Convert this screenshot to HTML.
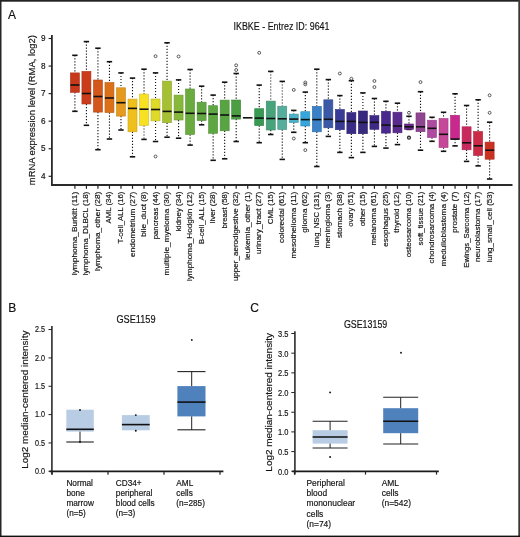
<!DOCTYPE html>
<html><head><meta charset="utf-8"><style>
html,body{margin:0;padding:0;background:#fff;}
body{width:520px;height:537px;overflow:hidden;font-family:"Liberation Sans",sans-serif;}
svg{position:absolute;left:0;top:0;will-change:transform;}
text{stroke:#1a1a1a;stroke-width:0.18px;}

</style></head><body>
<svg width="520" height="537" viewBox="0 0 520 537" fill="#111">
<text x="8" y="18.8" font-size="12" font-family="'Liberation Sans', sans-serif">A</text>
<text x="281.5" y="30.2" font-size="10.6" text-anchor="middle" textLength="96" lengthAdjust="spacingAndGlyphs" font-family="'Liberation Sans', sans-serif">IKBKE - Entrez ID: 9641</text>
<text transform="translate(35.2,110.2) rotate(-90)" font-size="9.6" text-anchor="middle" textLength="150" lengthAdjust="spacingAndGlyphs" font-family="'Liberation Sans', sans-serif">mRNA expression level (RMA, log2)</text>
<line x1="51.9" y1="35" x2="51.9" y2="185.5" stroke="#2a2a2a" stroke-width="1.8"/>
<line x1="51" y1="185" x2="512.5" y2="185" stroke="#2a2a2a" stroke-width="1.8"/>
<line x1="48.6" y1="38.50" x2="52" y2="38.50" stroke="#222" stroke-width="1.15"/>
<text x="43.2" y="41.25" font-size="8.2" text-anchor="middle" font-family="'Liberation Sans', sans-serif">9</text>
<line x1="48.6" y1="66.06" x2="52" y2="66.06" stroke="#222" stroke-width="1.15"/>
<text x="43.2" y="68.81" font-size="8.2" text-anchor="middle" font-family="'Liberation Sans', sans-serif">8</text>
<line x1="48.6" y1="93.62" x2="52" y2="93.62" stroke="#222" stroke-width="1.15"/>
<text x="43.2" y="96.37" font-size="8.2" text-anchor="middle" font-family="'Liberation Sans', sans-serif">7</text>
<line x1="48.6" y1="121.18" x2="52" y2="121.18" stroke="#222" stroke-width="1.15"/>
<text x="43.2" y="123.93" font-size="8.2" text-anchor="middle" font-family="'Liberation Sans', sans-serif">6</text>
<line x1="48.6" y1="148.74" x2="52" y2="148.74" stroke="#222" stroke-width="1.15"/>
<text x="43.2" y="151.49" font-size="8.2" text-anchor="middle" font-family="'Liberation Sans', sans-serif">5</text>
<line x1="48.6" y1="176.30" x2="52" y2="176.30" stroke="#222" stroke-width="1.15"/>
<text x="43.2" y="179.05" font-size="8.2" text-anchor="middle" font-family="'Liberation Sans', sans-serif">4</text>
<line x1="74.90" y1="185" x2="74.90" y2="188.8" stroke="#222" stroke-width="1.2"/>
<text transform="translate(76.90,275.20) rotate(-90)" font-size="8.1" textLength="83.5" lengthAdjust="spacingAndGlyphs" font-family="'Liberation Sans', sans-serif">lymphoma_Burkitt (11)</text>
<line x1="74.90" y1="55.30" x2="74.90" y2="72.90" stroke="#111" stroke-width="1.1" stroke-dasharray="1.2 1.8"/>
<line x1="74.90" y1="92.30" x2="74.90" y2="111.30" stroke="#111" stroke-width="1.1" stroke-dasharray="1.2 1.8"/>
<line x1="72.20" y1="55.30" x2="77.60" y2="55.30" stroke="#111" stroke-width="1.6"/>
<line x1="72.20" y1="111.30" x2="77.60" y2="111.30" stroke="#111" stroke-width="1.6"/>
<rect x="70.40" y="72.90" width="9.00" height="19.40" fill="#c8391b" stroke="#aa3016" stroke-width="0.6"/>
<line x1="70.40" y1="85.0" x2="79.40" y2="85.0" stroke="#111" stroke-width="1.6"/>
<line x1="86.42" y1="185" x2="86.42" y2="188.8" stroke="#222" stroke-width="1.2"/>
<text transform="translate(88.42,275.50) rotate(-90)" font-size="8.1" textLength="83.8" lengthAdjust="spacingAndGlyphs" font-family="'Liberation Sans', sans-serif">lymphoma_DLBCL (18)</text>
<line x1="86.42" y1="41.60" x2="86.42" y2="71.40" stroke="#111" stroke-width="1.1" stroke-dasharray="1.2 1.8"/>
<line x1="86.42" y1="104.00" x2="86.42" y2="125.30" stroke="#111" stroke-width="1.1" stroke-dasharray="1.2 1.8"/>
<line x1="83.72" y1="41.60" x2="89.12" y2="41.60" stroke="#111" stroke-width="1.6"/>
<line x1="83.72" y1="125.30" x2="89.12" y2="125.30" stroke="#111" stroke-width="1.6"/>
<rect x="81.92" y="71.40" width="9.00" height="32.60" fill="#cb3c1b" stroke="#ac3316" stroke-width="0.6"/>
<line x1="81.92" y1="93.5" x2="90.92" y2="93.5" stroke="#111" stroke-width="1.6"/>
<line x1="97.94" y1="185" x2="97.94" y2="188.8" stroke="#222" stroke-width="1.2"/>
<text transform="translate(99.94,270.90) rotate(-90)" font-size="8.1" textLength="79.2" lengthAdjust="spacingAndGlyphs" font-family="'Liberation Sans', sans-serif">lymphoma_other (28)</text>
<line x1="97.94" y1="48.20" x2="97.94" y2="80.00" stroke="#111" stroke-width="1.1" stroke-dasharray="1.2 1.8"/>
<line x1="97.94" y1="112.10" x2="97.94" y2="149.70" stroke="#111" stroke-width="1.1" stroke-dasharray="1.2 1.8"/>
<line x1="95.24" y1="48.20" x2="100.64" y2="48.20" stroke="#111" stroke-width="1.6"/>
<line x1="95.24" y1="149.70" x2="100.64" y2="149.70" stroke="#111" stroke-width="1.6"/>
<rect x="93.44" y="80.00" width="9.00" height="32.10" fill="#d3561a" stroke="#b34916" stroke-width="0.6"/>
<line x1="93.44" y1="96.5" x2="102.44" y2="96.5" stroke="#111" stroke-width="1.6"/>
<line x1="109.46" y1="185" x2="109.46" y2="188.8" stroke="#222" stroke-width="1.2"/>
<text transform="translate(111.46,223.40) rotate(-90)" font-size="8.1" textLength="31.7" lengthAdjust="spacingAndGlyphs" font-family="'Liberation Sans', sans-serif">AML (34)</text>
<line x1="109.46" y1="61.70" x2="109.46" y2="82.50" stroke="#111" stroke-width="1.1" stroke-dasharray="1.2 1.8"/>
<line x1="109.46" y1="112.60" x2="109.46" y2="139.00" stroke="#111" stroke-width="1.1" stroke-dasharray="1.2 1.8"/>
<line x1="106.76" y1="61.70" x2="112.16" y2="61.70" stroke="#111" stroke-width="1.6"/>
<line x1="106.76" y1="139.00" x2="112.16" y2="139.00" stroke="#111" stroke-width="1.6"/>
<rect x="104.96" y="82.50" width="9.00" height="30.10" fill="#db7019" stroke="#ba5f15" stroke-width="0.6"/>
<line x1="104.96" y1="98.0" x2="113.96" y2="98.0" stroke="#111" stroke-width="1.6"/>
<line x1="120.98" y1="185" x2="120.98" y2="188.8" stroke="#222" stroke-width="1.2"/>
<text transform="translate(122.98,243.50) rotate(-90)" font-size="8.1" textLength="51.8" lengthAdjust="spacingAndGlyphs" font-family="'Liberation Sans', sans-serif">T-cell_ALL (16)</text>
<line x1="120.98" y1="72.90" x2="120.98" y2="87.80" stroke="#111" stroke-width="1.1" stroke-dasharray="1.2 1.8"/>
<line x1="120.98" y1="116.10" x2="120.98" y2="130.00" stroke="#111" stroke-width="1.1" stroke-dasharray="1.2 1.8"/>
<line x1="118.28" y1="72.90" x2="123.68" y2="72.90" stroke="#111" stroke-width="1.6"/>
<line x1="118.28" y1="130.00" x2="123.68" y2="130.00" stroke="#111" stroke-width="1.6"/>
<rect x="116.48" y="87.80" width="9.00" height="28.30" fill="#e5991d" stroke="#c28218" stroke-width="0.6"/>
<line x1="116.48" y1="102.7" x2="125.48" y2="102.7" stroke="#111" stroke-width="1.6"/>
<line x1="132.50" y1="185" x2="132.50" y2="188.8" stroke="#222" stroke-width="1.2"/>
<text transform="translate(134.50,256.90) rotate(-90)" font-size="8.1" textLength="65.2" lengthAdjust="spacingAndGlyphs" font-family="'Liberation Sans', sans-serif">endometrium (27)</text>
<line x1="132.50" y1="78.10" x2="132.50" y2="99.10" stroke="#111" stroke-width="1.1" stroke-dasharray="1.2 1.8"/>
<line x1="132.50" y1="131.80" x2="132.50" y2="156.80" stroke="#111" stroke-width="1.1" stroke-dasharray="1.2 1.8"/>
<line x1="129.80" y1="78.10" x2="135.20" y2="78.10" stroke="#111" stroke-width="1.6"/>
<line x1="129.80" y1="156.80" x2="135.20" y2="156.80" stroke="#111" stroke-width="1.6"/>
<rect x="128.00" y="99.10" width="9.00" height="32.70" fill="#efbf1c" stroke="#cba217" stroke-width="0.6"/>
<line x1="128.00" y1="108.4" x2="137.00" y2="108.4" stroke="#111" stroke-width="1.6"/>
<line x1="144.02" y1="185" x2="144.02" y2="188.8" stroke="#222" stroke-width="1.2"/>
<text transform="translate(146.02,236.80) rotate(-90)" font-size="8.1" textLength="45.1" lengthAdjust="spacingAndGlyphs" font-family="'Liberation Sans', sans-serif">bile_duct (8)</text>
<line x1="144.02" y1="69.20" x2="144.02" y2="94.10" stroke="#111" stroke-width="1.1" stroke-dasharray="1.2 1.8"/>
<line x1="144.02" y1="125.40" x2="144.02" y2="139.40" stroke="#111" stroke-width="1.1" stroke-dasharray="1.2 1.8"/>
<line x1="141.32" y1="69.20" x2="146.72" y2="69.20" stroke="#111" stroke-width="1.6"/>
<line x1="141.32" y1="139.40" x2="146.72" y2="139.40" stroke="#111" stroke-width="1.6"/>
<rect x="139.52" y="94.10" width="9.00" height="31.30" fill="#f7e121" stroke="#d1bf1c" stroke-width="0.6"/>
<line x1="139.52" y1="109.2" x2="148.52" y2="109.2" stroke="#111" stroke-width="1.6"/>
<line x1="155.54" y1="185" x2="155.54" y2="188.8" stroke="#222" stroke-width="1.2"/>
<text transform="translate(157.54,239.20) rotate(-90)" font-size="8.1" textLength="47.5" lengthAdjust="spacingAndGlyphs" font-family="'Liberation Sans', sans-serif">pancreas (44)</text>
<line x1="155.54" y1="72.90" x2="155.54" y2="99.00" stroke="#111" stroke-width="1.1" stroke-dasharray="1.2 1.8"/>
<line x1="155.54" y1="120.90" x2="155.54" y2="141.50" stroke="#111" stroke-width="1.1" stroke-dasharray="1.2 1.8"/>
<line x1="152.84" y1="72.90" x2="158.24" y2="72.90" stroke="#111" stroke-width="1.6"/>
<line x1="152.84" y1="141.50" x2="158.24" y2="141.50" stroke="#111" stroke-width="1.6"/>
<rect x="151.04" y="99.00" width="9.00" height="21.90" fill="#dfd92a" stroke="#bdb823" stroke-width="0.6"/>
<line x1="151.04" y1="109.5" x2="160.04" y2="109.5" stroke="#111" stroke-width="1.6"/>
<circle cx="155.54" cy="56.2" r="1.45" fill="none" stroke="#333" stroke-width="0.8"/>
<circle cx="155.54" cy="156.5" r="1.45" fill="none" stroke="#333" stroke-width="0.8"/>
<line x1="167.06" y1="185" x2="167.06" y2="188.8" stroke="#222" stroke-width="1.2"/>
<text transform="translate(169.06,275.50) rotate(-90)" font-size="8.1" textLength="83.8" lengthAdjust="spacingAndGlyphs" font-family="'Liberation Sans', sans-serif">multiple_myeloma (30)</text>
<line x1="167.06" y1="42.80" x2="167.06" y2="81.10" stroke="#111" stroke-width="1.1" stroke-dasharray="1.2 1.8"/>
<line x1="167.06" y1="122.70" x2="167.06" y2="137.20" stroke="#111" stroke-width="1.1" stroke-dasharray="1.2 1.8"/>
<line x1="164.36" y1="42.80" x2="169.76" y2="42.80" stroke="#111" stroke-width="1.6"/>
<line x1="164.36" y1="137.20" x2="169.76" y2="137.20" stroke="#111" stroke-width="1.6"/>
<rect x="162.56" y="81.10" width="9.00" height="41.60" fill="#a6c033" stroke="#8da32b" stroke-width="0.6"/>
<line x1="162.56" y1="111.4" x2="171.56" y2="111.4" stroke="#111" stroke-width="1.6"/>
<line x1="178.58" y1="185" x2="178.58" y2="188.8" stroke="#222" stroke-width="1.2"/>
<text transform="translate(180.58,231.20) rotate(-90)" font-size="8.1" textLength="39.5" lengthAdjust="spacingAndGlyphs" font-family="'Liberation Sans', sans-serif">kidney (34)</text>
<line x1="178.58" y1="79.90" x2="178.58" y2="95.10" stroke="#111" stroke-width="1.1" stroke-dasharray="1.2 1.8"/>
<line x1="178.58" y1="120.00" x2="178.58" y2="138.20" stroke="#111" stroke-width="1.1" stroke-dasharray="1.2 1.8"/>
<line x1="175.88" y1="79.90" x2="181.28" y2="79.90" stroke="#111" stroke-width="1.6"/>
<line x1="175.88" y1="138.20" x2="181.28" y2="138.20" stroke="#111" stroke-width="1.6"/>
<rect x="174.08" y="95.10" width="9.00" height="24.90" fill="#86b83a" stroke="#719c31" stroke-width="0.6"/>
<line x1="174.08" y1="112.1" x2="183.08" y2="112.1" stroke="#111" stroke-width="1.6"/>
<circle cx="178.58" cy="56.5" r="1.45" fill="none" stroke="#333" stroke-width="0.8"/>
<line x1="190.10" y1="185" x2="190.10" y2="188.8" stroke="#222" stroke-width="1.2"/>
<text transform="translate(192.10,281.10) rotate(-90)" font-size="8.1" textLength="89.4" lengthAdjust="spacingAndGlyphs" font-family="'Liberation Sans', sans-serif">lymphoma_Hodgkin (12)</text>
<line x1="190.10" y1="69.50" x2="190.10" y2="89.00" stroke="#111" stroke-width="1.1" stroke-dasharray="1.2 1.8"/>
<line x1="190.10" y1="134.50" x2="190.10" y2="145.10" stroke="#111" stroke-width="1.1" stroke-dasharray="1.2 1.8"/>
<line x1="187.40" y1="69.50" x2="192.80" y2="69.50" stroke="#111" stroke-width="1.6"/>
<line x1="187.40" y1="145.10" x2="192.80" y2="145.10" stroke="#111" stroke-width="1.6"/>
<rect x="185.60" y="89.00" width="9.00" height="45.50" fill="#6aab3f" stroke="#5a9135" stroke-width="0.6"/>
<line x1="185.60" y1="113.3" x2="194.60" y2="113.3" stroke="#111" stroke-width="1.6"/>
<line x1="201.62" y1="185" x2="201.62" y2="188.8" stroke="#222" stroke-width="1.2"/>
<text transform="translate(203.62,243.90) rotate(-90)" font-size="8.1" textLength="52.2" lengthAdjust="spacingAndGlyphs" font-family="'Liberation Sans', sans-serif">B-cell_ALL (15)</text>
<line x1="201.62" y1="86.20" x2="201.62" y2="102.20" stroke="#111" stroke-width="1.1" stroke-dasharray="1.2 1.8"/>
<line x1="201.62" y1="120.60" x2="201.62" y2="124.80" stroke="#111" stroke-width="1.1" stroke-dasharray="1.2 1.8"/>
<line x1="198.92" y1="86.20" x2="204.32" y2="86.20" stroke="#111" stroke-width="1.6"/>
<line x1="198.92" y1="124.80" x2="204.32" y2="124.80" stroke="#111" stroke-width="1.6"/>
<rect x="197.12" y="102.20" width="9.00" height="18.40" fill="#61a841" stroke="#528e37" stroke-width="0.6"/>
<line x1="197.12" y1="113.5" x2="206.12" y2="113.5" stroke="#111" stroke-width="1.6"/>
<line x1="213.14" y1="185" x2="213.14" y2="188.8" stroke="#222" stroke-width="1.2"/>
<text transform="translate(215.14,223.40) rotate(-90)" font-size="8.1" textLength="31.7" lengthAdjust="spacingAndGlyphs" font-family="'Liberation Sans', sans-serif">liver (28)</text>
<line x1="213.14" y1="95.10" x2="213.14" y2="105.70" stroke="#111" stroke-width="1.1" stroke-dasharray="1.2 1.8"/>
<line x1="213.14" y1="133.30" x2="213.14" y2="160.30" stroke="#111" stroke-width="1.1" stroke-dasharray="1.2 1.8"/>
<line x1="210.44" y1="95.10" x2="215.84" y2="95.10" stroke="#111" stroke-width="1.6"/>
<line x1="210.44" y1="160.30" x2="215.84" y2="160.30" stroke="#111" stroke-width="1.6"/>
<rect x="208.64" y="105.70" width="9.00" height="27.60" fill="#5ca742" stroke="#4e8d38" stroke-width="0.6"/>
<line x1="208.64" y1="114.1" x2="217.64" y2="114.1" stroke="#111" stroke-width="1.6"/>
<line x1="224.66" y1="185" x2="224.66" y2="188.8" stroke="#222" stroke-width="1.2"/>
<text transform="translate(226.66,228.60) rotate(-90)" font-size="8.1" textLength="36.9" lengthAdjust="spacingAndGlyphs" font-family="'Liberation Sans', sans-serif">breast (58)</text>
<line x1="224.66" y1="82.20" x2="224.66" y2="100.10" stroke="#111" stroke-width="1.1" stroke-dasharray="1.2 1.8"/>
<line x1="224.66" y1="130.80" x2="224.66" y2="158.80" stroke="#111" stroke-width="1.1" stroke-dasharray="1.2 1.8"/>
<line x1="221.96" y1="82.20" x2="227.36" y2="82.20" stroke="#111" stroke-width="1.6"/>
<line x1="221.96" y1="158.80" x2="227.36" y2="158.80" stroke="#111" stroke-width="1.6"/>
<rect x="220.16" y="100.10" width="9.00" height="30.70" fill="#58a443" stroke="#4a8b38" stroke-width="0.6"/>
<line x1="220.16" y1="115.0" x2="229.16" y2="115.0" stroke="#111" stroke-width="1.6"/>
<line x1="236.18" y1="185" x2="236.18" y2="188.8" stroke="#222" stroke-width="1.2"/>
<text transform="translate(238.18,281.10) rotate(-90)" font-size="8.1" textLength="89.4" lengthAdjust="spacingAndGlyphs" font-family="'Liberation Sans', sans-serif">upper_aerodigestive (32)</text>
<line x1="236.18" y1="73.50" x2="236.18" y2="100.00" stroke="#111" stroke-width="1.1" stroke-dasharray="1.2 1.8"/>
<line x1="236.18" y1="119.10" x2="236.18" y2="141.50" stroke="#111" stroke-width="1.1" stroke-dasharray="1.2 1.8"/>
<line x1="233.48" y1="73.50" x2="238.88" y2="73.50" stroke="#111" stroke-width="1.6"/>
<line x1="233.48" y1="141.50" x2="238.88" y2="141.50" stroke="#111" stroke-width="1.6"/>
<rect x="231.68" y="100.00" width="9.00" height="19.10" fill="#4c9e43" stroke="#408638" stroke-width="0.6"/>
<line x1="231.68" y1="115.9" x2="240.68" y2="115.9" stroke="#111" stroke-width="1.6"/>
<circle cx="236.18" cy="70.0" r="1.45" fill="none" stroke="#333" stroke-width="0.8"/>
<circle cx="236.18" cy="65.3" r="1.45" fill="none" stroke="#333" stroke-width="0.8"/>
<line x1="247.70" y1="185" x2="247.70" y2="188.8" stroke="#222" stroke-width="1.2"/>
<text transform="translate(249.70,259.70) rotate(-90)" font-size="8.1" textLength="68.0" lengthAdjust="spacingAndGlyphs" font-family="'Liberation Sans', sans-serif">leukemia_other (1)</text>
<line x1="242.90" y1="117.8" x2="252.50" y2="117.8" stroke="#111" stroke-width="1.6"/>
<line x1="259.22" y1="185" x2="259.22" y2="188.8" stroke="#222" stroke-width="1.2"/>
<text transform="translate(261.22,254.10) rotate(-90)" font-size="8.1" textLength="62.4" lengthAdjust="spacingAndGlyphs" font-family="'Liberation Sans', sans-serif">urinary_tract (27)</text>
<line x1="259.22" y1="85.10" x2="259.22" y2="108.70" stroke="#111" stroke-width="1.1" stroke-dasharray="1.2 1.8"/>
<line x1="259.22" y1="125.60" x2="259.22" y2="142.70" stroke="#111" stroke-width="1.1" stroke-dasharray="1.2 1.8"/>
<line x1="256.52" y1="85.10" x2="261.92" y2="85.10" stroke="#111" stroke-width="1.6"/>
<line x1="256.52" y1="142.70" x2="261.92" y2="142.70" stroke="#111" stroke-width="1.6"/>
<rect x="254.72" y="108.70" width="9.00" height="16.90" fill="#379a52" stroke="#2e8245" stroke-width="0.6"/>
<line x1="254.72" y1="118.1" x2="263.72" y2="118.1" stroke="#111" stroke-width="1.6"/>
<circle cx="259.22" cy="52.8" r="1.45" fill="none" stroke="#333" stroke-width="0.8"/>
<line x1="270.74" y1="185" x2="270.74" y2="188.8" stroke="#222" stroke-width="1.2"/>
<text transform="translate(272.74,224.30) rotate(-90)" font-size="8.1" textLength="32.6" lengthAdjust="spacingAndGlyphs" font-family="'Liberation Sans', sans-serif">CML (15)</text>
<line x1="270.74" y1="71.40" x2="270.74" y2="101.10" stroke="#111" stroke-width="1.1" stroke-dasharray="1.2 1.8"/>
<line x1="270.74" y1="130.00" x2="270.74" y2="134.50" stroke="#111" stroke-width="1.1" stroke-dasharray="1.2 1.8"/>
<line x1="268.04" y1="71.40" x2="273.44" y2="71.40" stroke="#111" stroke-width="1.6"/>
<line x1="268.04" y1="134.50" x2="273.44" y2="134.50" stroke="#111" stroke-width="1.6"/>
<rect x="266.24" y="101.10" width="9.00" height="28.90" fill="#47a37a" stroke="#3c8a67" stroke-width="0.6"/>
<line x1="266.24" y1="118.5" x2="275.24" y2="118.5" stroke="#111" stroke-width="1.6"/>
<line x1="282.26" y1="185" x2="282.26" y2="188.8" stroke="#222" stroke-width="1.2"/>
<text transform="translate(284.26,242.90) rotate(-90)" font-size="8.1" textLength="51.2" lengthAdjust="spacingAndGlyphs" font-family="'Liberation Sans', sans-serif">colorectal (61)</text>
<line x1="282.26" y1="81.40" x2="282.26" y2="106.20" stroke="#111" stroke-width="1.1" stroke-dasharray="1.2 1.8"/>
<line x1="282.26" y1="129.60" x2="282.26" y2="159.40" stroke="#111" stroke-width="1.1" stroke-dasharray="1.2 1.8"/>
<line x1="279.56" y1="81.40" x2="284.96" y2="81.40" stroke="#111" stroke-width="1.6"/>
<line x1="279.56" y1="159.40" x2="284.96" y2="159.40" stroke="#111" stroke-width="1.6"/>
<rect x="277.76" y="106.20" width="9.00" height="23.40" fill="#55ad9c" stroke="#489384" stroke-width="0.6"/>
<line x1="277.76" y1="118.8" x2="286.76" y2="118.8" stroke="#111" stroke-width="1.6"/>
<line x1="293.78" y1="185" x2="293.78" y2="188.8" stroke="#222" stroke-width="1.2"/>
<text transform="translate(295.78,258.40) rotate(-90)" font-size="8.1" textLength="66.7" lengthAdjust="spacingAndGlyphs" font-family="'Liberation Sans', sans-serif">mesothelioma (11)</text>
<line x1="293.78" y1="110.40" x2="293.78" y2="114.10" stroke="#111" stroke-width="1.1" stroke-dasharray="1.2 1.8"/>
<line x1="293.78" y1="122.60" x2="293.78" y2="132.30" stroke="#111" stroke-width="1.1" stroke-dasharray="1.2 1.8"/>
<line x1="291.08" y1="110.40" x2="296.48" y2="110.40" stroke="#111" stroke-width="1.6"/>
<line x1="291.08" y1="132.30" x2="296.48" y2="132.30" stroke="#111" stroke-width="1.6"/>
<rect x="289.28" y="114.10" width="9.00" height="8.50" fill="#4cb0c6" stroke="#4095a8" stroke-width="0.6"/>
<line x1="289.28" y1="119.1" x2="298.28" y2="119.1" stroke="#111" stroke-width="1.6"/>
<circle cx="293.78" cy="89.9" r="1.45" fill="none" stroke="#333" stroke-width="0.8"/>
<circle cx="293.78" cy="138.5" r="1.45" fill="none" stroke="#333" stroke-width="0.8"/>
<line x1="305.30" y1="185" x2="305.30" y2="188.8" stroke="#222" stroke-width="1.2"/>
<text transform="translate(307.30,232.70) rotate(-90)" font-size="8.1" textLength="41.0" lengthAdjust="spacingAndGlyphs" font-family="'Liberation Sans', sans-serif">glioma (62)</text>
<line x1="305.30" y1="92.10" x2="305.30" y2="111.70" stroke="#111" stroke-width="1.1" stroke-dasharray="1.2 1.8"/>
<line x1="305.30" y1="126.00" x2="305.30" y2="142.70" stroke="#111" stroke-width="1.1" stroke-dasharray="1.2 1.8"/>
<line x1="302.60" y1="92.10" x2="308.00" y2="92.10" stroke="#111" stroke-width="1.6"/>
<line x1="302.60" y1="142.70" x2="308.00" y2="142.70" stroke="#111" stroke-width="1.6"/>
<rect x="300.80" y="111.70" width="9.00" height="14.30" fill="#37a6dc" stroke="#2e8dbb" stroke-width="0.6"/>
<line x1="300.80" y1="119.6" x2="309.80" y2="119.6" stroke="#111" stroke-width="1.6"/>
<circle cx="305.30" cy="82.5" r="1.45" fill="none" stroke="#333" stroke-width="0.8"/>
<circle cx="305.30" cy="84.4" r="1.45" fill="none" stroke="#333" stroke-width="0.8"/>
<circle cx="305.30" cy="150.1" r="1.45" fill="none" stroke="#333" stroke-width="0.8"/>
<line x1="316.82" y1="185" x2="316.82" y2="188.8" stroke="#222" stroke-width="1.2"/>
<text transform="translate(318.82,247.20) rotate(-90)" font-size="8.1" textLength="55.5" lengthAdjust="spacingAndGlyphs" font-family="'Liberation Sans', sans-serif">lung_NSC (131)</text>
<line x1="316.82" y1="69.20" x2="316.82" y2="106.30" stroke="#111" stroke-width="1.1" stroke-dasharray="1.2 1.8"/>
<line x1="316.82" y1="131.80" x2="316.82" y2="166.50" stroke="#111" stroke-width="1.1" stroke-dasharray="1.2 1.8"/>
<line x1="314.12" y1="69.20" x2="319.52" y2="69.20" stroke="#111" stroke-width="1.6"/>
<line x1="314.12" y1="166.50" x2="319.52" y2="166.50" stroke="#111" stroke-width="1.6"/>
<rect x="312.32" y="106.30" width="9.00" height="25.50" fill="#3a80c6" stroke="#316ca8" stroke-width="0.6"/>
<line x1="312.32" y1="119.6" x2="321.32" y2="119.6" stroke="#111" stroke-width="1.6"/>
<line x1="328.34" y1="185" x2="328.34" y2="188.8" stroke="#222" stroke-width="1.2"/>
<text transform="translate(330.34,248.50) rotate(-90)" font-size="8.1" textLength="56.8" lengthAdjust="spacingAndGlyphs" font-family="'Liberation Sans', sans-serif">meningioma (3)</text>
<line x1="328.34" y1="79.60" x2="328.34" y2="99.80" stroke="#111" stroke-width="1.1" stroke-dasharray="1.2 1.8"/>
<line x1="328.34" y1="127.80" x2="328.34" y2="136.40" stroke="#111" stroke-width="1.1" stroke-dasharray="1.2 1.8"/>
<line x1="325.64" y1="79.60" x2="331.04" y2="79.60" stroke="#111" stroke-width="1.6"/>
<line x1="325.64" y1="136.40" x2="331.04" y2="136.40" stroke="#111" stroke-width="1.6"/>
<rect x="323.84" y="99.80" width="9.00" height="28.00" fill="#3b59a6" stroke="#324b8d" stroke-width="0.6"/>
<line x1="323.84" y1="119.3" x2="332.84" y2="119.3" stroke="#111" stroke-width="1.6"/>
<line x1="339.86" y1="185" x2="339.86" y2="188.8" stroke="#222" stroke-width="1.2"/>
<text transform="translate(341.86,237.90) rotate(-90)" font-size="8.1" textLength="46.2" lengthAdjust="spacingAndGlyphs" font-family="'Liberation Sans', sans-serif">stomach (38)</text>
<line x1="339.86" y1="95.60" x2="339.86" y2="109.50" stroke="#111" stroke-width="1.1" stroke-dasharray="1.2 1.8"/>
<line x1="339.86" y1="129.70" x2="339.86" y2="152.40" stroke="#111" stroke-width="1.1" stroke-dasharray="1.2 1.8"/>
<line x1="337.16" y1="95.60" x2="342.56" y2="95.60" stroke="#111" stroke-width="1.6"/>
<line x1="337.16" y1="152.40" x2="342.56" y2="152.40" stroke="#111" stroke-width="1.6"/>
<rect x="335.36" y="109.50" width="9.00" height="20.20" fill="#383b96" stroke="#2f327f" stroke-width="0.6"/>
<line x1="335.36" y1="121.4" x2="344.36" y2="121.4" stroke="#111" stroke-width="1.6"/>
<circle cx="339.86" cy="73.5" r="1.45" fill="none" stroke="#333" stroke-width="0.8"/>
<line x1="351.38" y1="185" x2="351.38" y2="188.8" stroke="#222" stroke-width="1.2"/>
<text transform="translate(353.38,226.70) rotate(-90)" font-size="8.1" textLength="35.0" lengthAdjust="spacingAndGlyphs" font-family="'Liberation Sans', sans-serif">ovary (51)</text>
<line x1="351.38" y1="80.70" x2="351.38" y2="112.60" stroke="#111" stroke-width="1.1" stroke-dasharray="1.2 1.8"/>
<line x1="351.38" y1="133.70" x2="351.38" y2="157.60" stroke="#111" stroke-width="1.1" stroke-dasharray="1.2 1.8"/>
<line x1="348.68" y1="80.70" x2="354.08" y2="80.70" stroke="#111" stroke-width="1.6"/>
<line x1="348.68" y1="157.60" x2="354.08" y2="157.60" stroke="#111" stroke-width="1.6"/>
<rect x="346.88" y="112.60" width="9.00" height="21.10" fill="#372b86" stroke="#2e2471" stroke-width="0.6"/>
<line x1="346.88" y1="121.4" x2="355.88" y2="121.4" stroke="#111" stroke-width="1.6"/>
<circle cx="351.38" cy="78.7" r="1.45" fill="none" stroke="#333" stroke-width="0.8"/>
<line x1="362.90" y1="185" x2="362.90" y2="188.8" stroke="#222" stroke-width="1.2"/>
<text transform="translate(364.90,226.20) rotate(-90)" font-size="8.1" textLength="34.5" lengthAdjust="spacingAndGlyphs" font-family="'Liberation Sans', sans-serif">other (15)</text>
<line x1="362.90" y1="92.90" x2="362.90" y2="111.00" stroke="#111" stroke-width="1.1" stroke-dasharray="1.2 1.8"/>
<line x1="362.90" y1="133.70" x2="362.90" y2="152.40" stroke="#111" stroke-width="1.1" stroke-dasharray="1.2 1.8"/>
<line x1="360.20" y1="92.90" x2="365.60" y2="92.90" stroke="#111" stroke-width="1.6"/>
<line x1="360.20" y1="152.40" x2="365.60" y2="152.40" stroke="#111" stroke-width="1.6"/>
<rect x="358.40" y="111.00" width="9.00" height="22.70" fill="#36297e" stroke="#2d226b" stroke-width="0.6"/>
<line x1="358.40" y1="122.4" x2="367.40" y2="122.4" stroke="#111" stroke-width="1.6"/>
<line x1="374.42" y1="185" x2="374.42" y2="188.8" stroke="#222" stroke-width="1.2"/>
<text transform="translate(376.42,245.40) rotate(-90)" font-size="8.1" textLength="53.7" lengthAdjust="spacingAndGlyphs" font-family="'Liberation Sans', sans-serif">melanoma (61)</text>
<line x1="374.42" y1="98.50" x2="374.42" y2="115.60" stroke="#111" stroke-width="1.1" stroke-dasharray="1.2 1.8"/>
<line x1="374.42" y1="129.30" x2="374.42" y2="146.40" stroke="#111" stroke-width="1.1" stroke-dasharray="1.2 1.8"/>
<line x1="371.72" y1="98.50" x2="377.12" y2="98.50" stroke="#111" stroke-width="1.6"/>
<line x1="371.72" y1="146.40" x2="377.12" y2="146.40" stroke="#111" stroke-width="1.6"/>
<rect x="369.92" y="115.60" width="9.00" height="13.70" fill="#3f2987" stroke="#352272" stroke-width="0.6"/>
<line x1="369.92" y1="122.3" x2="378.92" y2="122.3" stroke="#111" stroke-width="1.6"/>
<circle cx="374.42" cy="81.0" r="1.45" fill="none" stroke="#333" stroke-width="0.8"/>
<circle cx="374.42" cy="87.1" r="1.45" fill="none" stroke="#333" stroke-width="0.8"/>
<line x1="385.94" y1="185" x2="385.94" y2="188.8" stroke="#222" stroke-width="1.2"/>
<text transform="translate(387.94,246.70) rotate(-90)" font-size="8.1" textLength="55.0" lengthAdjust="spacingAndGlyphs" font-family="'Liberation Sans', sans-serif">esophagus (25)</text>
<line x1="385.94" y1="101.30" x2="385.94" y2="111.30" stroke="#111" stroke-width="1.1" stroke-dasharray="1.2 1.8"/>
<line x1="385.94" y1="133.10" x2="385.94" y2="148.10" stroke="#111" stroke-width="1.1" stroke-dasharray="1.2 1.8"/>
<line x1="383.24" y1="101.30" x2="388.64" y2="101.30" stroke="#111" stroke-width="1.6"/>
<line x1="383.24" y1="148.10" x2="388.64" y2="148.10" stroke="#111" stroke-width="1.6"/>
<rect x="381.44" y="111.30" width="9.00" height="21.80" fill="#4a298e" stroke="#3e2278" stroke-width="0.6"/>
<line x1="381.44" y1="125.1" x2="390.44" y2="125.1" stroke="#111" stroke-width="1.6"/>
<line x1="397.46" y1="185" x2="397.46" y2="188.8" stroke="#222" stroke-width="1.2"/>
<text transform="translate(399.46,232.70) rotate(-90)" font-size="8.1" textLength="41.0" lengthAdjust="spacingAndGlyphs" font-family="'Liberation Sans', sans-serif">thyroid (12)</text>
<line x1="397.46" y1="103.20" x2="397.46" y2="112.20" stroke="#111" stroke-width="1.1" stroke-dasharray="1.2 1.8"/>
<line x1="397.46" y1="132.80" x2="397.46" y2="144.60" stroke="#111" stroke-width="1.1" stroke-dasharray="1.2 1.8"/>
<line x1="394.76" y1="103.20" x2="400.16" y2="103.20" stroke="#111" stroke-width="1.6"/>
<line x1="394.76" y1="144.60" x2="400.16" y2="144.60" stroke="#111" stroke-width="1.6"/>
<rect x="392.96" y="112.20" width="9.00" height="20.60" fill="#5a2a8f" stroke="#4c2379" stroke-width="0.6"/>
<line x1="392.96" y1="126.0" x2="401.96" y2="126.0" stroke="#111" stroke-width="1.6"/>
<line x1="408.98" y1="185" x2="408.98" y2="188.8" stroke="#222" stroke-width="1.2"/>
<text transform="translate(410.98,257.30) rotate(-90)" font-size="8.1" textLength="65.6" lengthAdjust="spacingAndGlyphs" font-family="'Liberation Sans', sans-serif">osteosarcoma (10)</text>
<line x1="408.98" y1="116.30" x2="408.98" y2="124.00" stroke="#111" stroke-width="1.1" stroke-dasharray="1.2 1.8"/>
<line x1="408.98" y1="129.40" x2="408.98" y2="129.40" stroke="#111" stroke-width="1.1" stroke-dasharray="1.2 1.8"/>
<line x1="406.28" y1="116.30" x2="411.68" y2="116.30" stroke="#111" stroke-width="1.6"/>
<line x1="406.28" y1="129.40" x2="411.68" y2="129.40" stroke="#111" stroke-width="1.6"/>
<rect x="404.48" y="124.00" width="9.00" height="5.40" fill="#6a2a8b" stroke="#5a2376" stroke-width="0.6"/>
<line x1="404.48" y1="126.8" x2="413.48" y2="126.8" stroke="#111" stroke-width="1.6"/>
<circle cx="408.98" cy="112.8" r="1.45" fill="none" stroke="#333" stroke-width="0.8"/>
<circle cx="408.98" cy="137.7" r="1.45" fill="none" stroke="#333" stroke-width="1.3"/>
<line x1="420.50" y1="185" x2="420.50" y2="188.8" stroke="#222" stroke-width="1.2"/>
<text transform="translate(422.50,245.40) rotate(-90)" font-size="8.1" textLength="53.7" lengthAdjust="spacingAndGlyphs" font-family="'Liberation Sans', sans-serif">soft_tissue (21)</text>
<line x1="420.50" y1="91.70" x2="420.50" y2="112.90" stroke="#111" stroke-width="1.1" stroke-dasharray="1.2 1.8"/>
<line x1="420.50" y1="131.70" x2="420.50" y2="150.20" stroke="#111" stroke-width="1.1" stroke-dasharray="1.2 1.8"/>
<line x1="417.80" y1="91.70" x2="423.20" y2="91.70" stroke="#111" stroke-width="1.6"/>
<line x1="417.80" y1="150.20" x2="423.20" y2="150.20" stroke="#111" stroke-width="1.6"/>
<rect x="416.00" y="112.90" width="9.00" height="18.80" fill="#8f4690" stroke="#793b7a" stroke-width="0.6"/>
<line x1="416.00" y1="126.8" x2="425.00" y2="126.8" stroke="#111" stroke-width="1.6"/>
<circle cx="420.50" cy="82.1" r="1.45" fill="none" stroke="#333" stroke-width="0.8"/>
<line x1="432.02" y1="185" x2="432.02" y2="188.8" stroke="#222" stroke-width="1.2"/>
<text transform="translate(434.02,263.40) rotate(-90)" font-size="8.1" textLength="71.7" lengthAdjust="spacingAndGlyphs" font-family="'Liberation Sans', sans-serif">chondrosarcoma (4)</text>
<line x1="432.02" y1="117.30" x2="432.02" y2="120.20" stroke="#111" stroke-width="1.1" stroke-dasharray="1.2 1.8"/>
<line x1="432.02" y1="137.60" x2="432.02" y2="141.30" stroke="#111" stroke-width="1.1" stroke-dasharray="1.2 1.8"/>
<line x1="429.32" y1="117.30" x2="434.72" y2="117.30" stroke="#111" stroke-width="1.6"/>
<line x1="429.32" y1="141.30" x2="434.72" y2="141.30" stroke="#111" stroke-width="1.6"/>
<rect x="427.52" y="120.20" width="9.00" height="17.40" fill="#ae4a9f" stroke="#933e87" stroke-width="0.6"/>
<line x1="427.52" y1="128.3" x2="436.52" y2="128.3" stroke="#111" stroke-width="1.6"/>
<line x1="443.54" y1="185" x2="443.54" y2="188.8" stroke="#222" stroke-width="1.2"/>
<text transform="translate(445.54,266.20) rotate(-90)" font-size="8.1" textLength="74.5" lengthAdjust="spacingAndGlyphs" font-family="'Liberation Sans', sans-serif">medulloblastoma (4)</text>
<line x1="443.54" y1="112.30" x2="443.54" y2="118.50" stroke="#111" stroke-width="1.1" stroke-dasharray="1.2 1.8"/>
<line x1="443.54" y1="147.60" x2="443.54" y2="151.30" stroke="#111" stroke-width="1.1" stroke-dasharray="1.2 1.8"/>
<line x1="440.84" y1="112.30" x2="446.24" y2="112.30" stroke="#111" stroke-width="1.6"/>
<line x1="440.84" y1="151.30" x2="446.24" y2="151.30" stroke="#111" stroke-width="1.6"/>
<rect x="439.04" y="118.50" width="9.00" height="29.10" fill="#c64898" stroke="#a83d81" stroke-width="0.6"/>
<line x1="439.04" y1="134.3" x2="448.04" y2="134.3" stroke="#111" stroke-width="1.6"/>
<line x1="455.06" y1="185" x2="455.06" y2="188.8" stroke="#222" stroke-width="1.2"/>
<text transform="translate(457.06,232.70) rotate(-90)" font-size="8.1" textLength="41.0" lengthAdjust="spacingAndGlyphs" font-family="'Liberation Sans', sans-serif">prostate (7)</text>
<line x1="455.06" y1="93.80" x2="455.06" y2="115.30" stroke="#111" stroke-width="1.1" stroke-dasharray="1.2 1.8"/>
<line x1="455.06" y1="139.10" x2="455.06" y2="145.90" stroke="#111" stroke-width="1.1" stroke-dasharray="1.2 1.8"/>
<line x1="452.36" y1="93.80" x2="457.76" y2="93.80" stroke="#111" stroke-width="1.6"/>
<line x1="452.36" y1="145.90" x2="457.76" y2="145.90" stroke="#111" stroke-width="1.6"/>
<rect x="450.56" y="115.30" width="9.00" height="23.80" fill="#c9298e" stroke="#aa2278" stroke-width="0.6"/>
<line x1="450.56" y1="139.1" x2="459.56" y2="139.1" stroke="#111" stroke-width="1.6"/>
<line x1="466.58" y1="185" x2="466.58" y2="188.8" stroke="#222" stroke-width="1.2"/>
<text transform="translate(468.58,267.70) rotate(-90)" font-size="8.1" textLength="76.0" lengthAdjust="spacingAndGlyphs" font-family="'Liberation Sans', sans-serif">Ewings_Sarcoma (12)</text>
<line x1="466.58" y1="105.50" x2="466.58" y2="126.80" stroke="#111" stroke-width="1.1" stroke-dasharray="1.2 1.8"/>
<line x1="466.58" y1="149.80" x2="466.58" y2="161.40" stroke="#111" stroke-width="1.1" stroke-dasharray="1.2 1.8"/>
<line x1="463.88" y1="105.50" x2="469.28" y2="105.50" stroke="#111" stroke-width="1.6"/>
<line x1="463.88" y1="161.40" x2="469.28" y2="161.40" stroke="#111" stroke-width="1.6"/>
<rect x="462.08" y="126.80" width="9.00" height="23.00" fill="#c92a5e" stroke="#aa234f" stroke-width="0.6"/>
<line x1="462.08" y1="142.8" x2="471.08" y2="142.8" stroke="#111" stroke-width="1.6"/>
<line x1="478.10" y1="185" x2="478.10" y2="188.8" stroke="#222" stroke-width="1.2"/>
<text transform="translate(480.10,262.10) rotate(-90)" font-size="8.1" textLength="70.4" lengthAdjust="spacingAndGlyphs" font-family="'Liberation Sans', sans-serif">neuroblastoma (17)</text>
<line x1="478.10" y1="99.80" x2="478.10" y2="131.50" stroke="#111" stroke-width="1.1" stroke-dasharray="1.2 1.8"/>
<line x1="478.10" y1="155.50" x2="478.10" y2="165.90" stroke="#111" stroke-width="1.1" stroke-dasharray="1.2 1.8"/>
<line x1="475.40" y1="99.80" x2="480.80" y2="99.80" stroke="#111" stroke-width="1.6"/>
<line x1="475.40" y1="165.90" x2="480.80" y2="165.90" stroke="#111" stroke-width="1.6"/>
<rect x="473.60" y="131.50" width="9.00" height="24.00" fill="#ca2a45" stroke="#ab233a" stroke-width="0.6"/>
<line x1="473.60" y1="145.8" x2="482.60" y2="145.8" stroke="#111" stroke-width="1.6"/>
<line x1="489.62" y1="185" x2="489.62" y2="188.8" stroke="#222" stroke-width="1.2"/>
<text transform="translate(491.62,262.50) rotate(-90)" font-size="8.1" textLength="70.8" lengthAdjust="spacingAndGlyphs" font-family="'Liberation Sans', sans-serif">lung_small_cell (53)</text>
<line x1="489.62" y1="122.20" x2="489.62" y2="142.10" stroke="#111" stroke-width="1.1" stroke-dasharray="1.2 1.8"/>
<line x1="489.62" y1="159.20" x2="489.62" y2="179.00" stroke="#111" stroke-width="1.1" stroke-dasharray="1.2 1.8"/>
<line x1="486.92" y1="122.20" x2="492.32" y2="122.20" stroke="#111" stroke-width="1.6"/>
<line x1="486.92" y1="179.00" x2="492.32" y2="179.00" stroke="#111" stroke-width="1.6"/>
<rect x="485.12" y="142.10" width="9.00" height="17.10" fill="#cb3121" stroke="#ac291c" stroke-width="0.6"/>
<line x1="485.12" y1="150.2" x2="494.12" y2="150.2" stroke="#111" stroke-width="1.6"/>
<circle cx="489.62" cy="112.8" r="1.45" fill="none" stroke="#333" stroke-width="0.8"/>
<circle cx="489.62" cy="95.3" r="1.45" fill="none" stroke="#333" stroke-width="0.8"/>
<text x="8.3" y="311.7" font-size="12" font-family="'Liberation Sans', sans-serif">B</text>
<text x="136" y="323.1" font-size="10" text-anchor="middle" textLength="39" lengthAdjust="spacingAndGlyphs" font-family="'Liberation Sans', sans-serif">GSE1159</text>
<text transform="translate(28.2,399.7) rotate(-90)" font-size="9.8" text-anchor="middle" textLength="138.2" lengthAdjust="spacingAndGlyphs" font-family="'Liberation Sans', sans-serif">Log2 median-centered intensity</text>
<line x1="51.9" y1="326" x2="51.9" y2="474.5" stroke="#383838" stroke-width="1.7"/>
<line x1="49.5" y1="471.3" x2="223.4" y2="471.3" stroke="#1a1a1a" stroke-width="1.7"/>
<line x1="48.5" y1="329.55" x2="52" y2="329.55" stroke="#222" stroke-width="1"/>
<text x="44.9" y="332.35" font-size="8.6" text-anchor="end" textLength="10" lengthAdjust="spacingAndGlyphs" font-family="'Liberation Sans', sans-serif">2.5</text>
<line x1="48.5" y1="357.90" x2="52" y2="357.90" stroke="#222" stroke-width="1"/>
<text x="44.9" y="360.70" font-size="8.6" text-anchor="end" textLength="10" lengthAdjust="spacingAndGlyphs" font-family="'Liberation Sans', sans-serif">2.0</text>
<line x1="48.5" y1="386.25" x2="52" y2="386.25" stroke="#222" stroke-width="1"/>
<text x="44.9" y="389.05" font-size="8.6" text-anchor="end" textLength="10" lengthAdjust="spacingAndGlyphs" font-family="'Liberation Sans', sans-serif">1.5</text>
<line x1="48.5" y1="414.60" x2="52" y2="414.60" stroke="#222" stroke-width="1"/>
<text x="44.9" y="417.40" font-size="8.6" text-anchor="end" textLength="10" lengthAdjust="spacingAndGlyphs" font-family="'Liberation Sans', sans-serif">1.0</text>
<line x1="48.5" y1="442.95" x2="52" y2="442.95" stroke="#222" stroke-width="1"/>
<text x="44.9" y="445.75" font-size="8.6" text-anchor="end" textLength="10" lengthAdjust="spacingAndGlyphs" font-family="'Liberation Sans', sans-serif">0.5</text>
<line x1="48.5" y1="471.30" x2="52" y2="471.30" stroke="#222" stroke-width="1"/>
<text x="44.9" y="474.10" font-size="8.6" text-anchor="end" textLength="10" lengthAdjust="spacingAndGlyphs" font-family="'Liberation Sans', sans-serif">0.0</text>
<line x1="52" y1="471" x2="52" y2="474.8" stroke="#222" stroke-width="1.2"/>
<line x1="108" y1="471" x2="108" y2="474.8" stroke="#222" stroke-width="1.2"/>
<line x1="164" y1="471" x2="164" y2="474.8" stroke="#222" stroke-width="1.2"/>
<line x1="220" y1="471" x2="220" y2="474.8" stroke="#222" stroke-width="1.2"/>
<rect x="66.3" y="409.7" width="27.5" height="21.9" fill="#b8cce4"/>
<line x1="66.3" y1="429.3" x2="93.8" y2="429.3" stroke="#111" stroke-width="1.6"/>
<line x1="80" y1="431.6" x2="80" y2="442" stroke="#222" stroke-width="1"/>
<line x1="66.3" y1="442" x2="93.8" y2="442" stroke="#222" stroke-width="1.1"/>
<circle cx="80" cy="410" r="0.95" fill="#111"/>
<circle cx="80" cy="442" r="0.95" fill="#111"/>
<rect x="121.9" y="415.1" width="27.8" height="15.2" fill="#b8cce4"/>
<line x1="121.9" y1="424.6" x2="149.7" y2="424.6" stroke="#111" stroke-width="1.6"/>
<circle cx="135.8" cy="415.1" r="0.95" fill="#111"/>
<circle cx="135.8" cy="430.8" r="0.95" fill="#111"/>
<rect x="177.4" y="386.1" width="28.1" height="30.3" fill="#4f81bd"/>
<line x1="177.4" y1="402.1" x2="205.5" y2="402.1" stroke="#111" stroke-width="1.6"/>
<line x1="191.7" y1="371.6" x2="191.7" y2="386.1" stroke="#222" stroke-width="1"/>
<line x1="191.7" y1="416.4" x2="191.7" y2="429.8" stroke="#222" stroke-width="1"/>
<line x1="177.4" y1="371.6" x2="205.5" y2="371.6" stroke="#222" stroke-width="1.1"/>
<line x1="177.4" y1="429.8" x2="205.5" y2="429.8" stroke="#222" stroke-width="1.1"/>
<circle cx="191.8" cy="339.9" r="0.95" fill="#111"/>
<g transform="translate(66.4,0) scale(0.96,1)"><text font-size="8.6" font-family="'Liberation Sans', sans-serif"><tspan x="0" y="485.90">Normal</tspan><tspan x="0" y="496.10">bone</tspan><tspan x="0" y="506.30">marrow</tspan><tspan x="0" y="516.50">(n=5)</tspan></text></g>
<g transform="translate(115.8,0) scale(0.96,1)"><text font-size="8.6" font-family="'Liberation Sans', sans-serif"><tspan x="0" y="485.90">CD34+</tspan><tspan x="0" y="496.10">peripheral</tspan><tspan x="0" y="506.30">blood cells</tspan><tspan x="0" y="516.50">(n=3)</tspan></text></g>
<g transform="translate(176.3,0) scale(0.96,1)"><text font-size="8.6" font-family="'Liberation Sans', sans-serif"><tspan x="0" y="485.90">AML</tspan><tspan x="0" y="496.10">cells</tspan><tspan x="0" y="506.30">(n=285)</tspan></text></g>
<text x="250.3" y="311.7" font-size="12" font-family="'Liberation Sans', sans-serif">C</text>
<text x="365.6" y="328.4" font-size="10" text-anchor="middle" textLength="43.3" lengthAdjust="spacingAndGlyphs" font-family="'Liberation Sans', sans-serif">GSE13159</text>
<text transform="translate(271.8,402.3) rotate(-90)" font-size="9.8" text-anchor="middle" textLength="138.7" lengthAdjust="spacingAndGlyphs" font-family="'Liberation Sans', sans-serif">Log2 median-centered intensity</text>
<line x1="294.9" y1="331.2" x2="294.9" y2="474.6" stroke="#383838" stroke-width="1.7"/>
<line x1="292.3" y1="471.3" x2="438.8" y2="471.3" stroke="#1a1a1a" stroke-width="1.7"/>
<line x1="291.3" y1="333.50" x2="294.7" y2="333.50" stroke="#222" stroke-width="1"/>
<text x="288.4" y="336.90" font-size="8.8" text-anchor="end" textLength="10.4" lengthAdjust="spacingAndGlyphs" font-family="'Liberation Sans', sans-serif">3.5</text>
<line x1="291.3" y1="353.18" x2="294.7" y2="353.18" stroke="#222" stroke-width="1"/>
<text x="288.4" y="356.58" font-size="8.8" text-anchor="end" textLength="10.4" lengthAdjust="spacingAndGlyphs" font-family="'Liberation Sans', sans-serif">3.0</text>
<line x1="291.3" y1="372.86" x2="294.7" y2="372.86" stroke="#222" stroke-width="1"/>
<text x="288.4" y="376.26" font-size="8.8" text-anchor="end" textLength="10.4" lengthAdjust="spacingAndGlyphs" font-family="'Liberation Sans', sans-serif">2.5</text>
<line x1="291.3" y1="392.54" x2="294.7" y2="392.54" stroke="#222" stroke-width="1"/>
<text x="288.4" y="395.94" font-size="8.8" text-anchor="end" textLength="10.4" lengthAdjust="spacingAndGlyphs" font-family="'Liberation Sans', sans-serif">2.0</text>
<line x1="291.3" y1="412.22" x2="294.7" y2="412.22" stroke="#222" stroke-width="1"/>
<text x="288.4" y="415.62" font-size="8.8" text-anchor="end" textLength="10.4" lengthAdjust="spacingAndGlyphs" font-family="'Liberation Sans', sans-serif">1.5</text>
<line x1="291.3" y1="431.90" x2="294.7" y2="431.90" stroke="#222" stroke-width="1"/>
<text x="288.4" y="435.30" font-size="8.8" text-anchor="end" textLength="10.4" lengthAdjust="spacingAndGlyphs" font-family="'Liberation Sans', sans-serif">1.0</text>
<line x1="291.3" y1="451.58" x2="294.7" y2="451.58" stroke="#222" stroke-width="1"/>
<text x="288.4" y="454.98" font-size="8.8" text-anchor="end" textLength="10.4" lengthAdjust="spacingAndGlyphs" font-family="'Liberation Sans', sans-serif">0.5</text>
<line x1="291.3" y1="471.26" x2="294.7" y2="471.26" stroke="#222" stroke-width="1"/>
<text x="288.4" y="474.66" font-size="8.8" text-anchor="end" textLength="10.4" lengthAdjust="spacingAndGlyphs" font-family="'Liberation Sans', sans-serif">0.0</text>
<line x1="294.5" y1="471" x2="294.5" y2="474.6" stroke="#222" stroke-width="1.2"/>
<line x1="365.5" y1="471" x2="365.5" y2="474.6" stroke="#222" stroke-width="1.2"/>
<line x1="436.5" y1="471" x2="436.5" y2="474.6" stroke="#222" stroke-width="1.2"/>
<rect x="312.6" y="430.2" width="35" height="13.4" fill="#b8cce4"/>
<line x1="312.6" y1="437" x2="347.6" y2="437" stroke="#111" stroke-width="1.6"/>
<line x1="330.1" y1="421.2" x2="330.1" y2="430.2" stroke="#222" stroke-width="1"/>
<line x1="330.1" y1="443.6" x2="330.1" y2="448" stroke="#222" stroke-width="1"/>
<line x1="312.6" y1="421.2" x2="347.6" y2="421.2" stroke="#222" stroke-width="1.1"/>
<line x1="312.6" y1="448" x2="347.6" y2="448" stroke="#222" stroke-width="1.1"/>
<circle cx="330.1" cy="392.4" r="0.95" fill="#111"/>
<circle cx="330.1" cy="457" r="0.95" fill="#111"/>
<rect x="383.2" y="408.2" width="35" height="25" fill="#4f81bd"/>
<line x1="383.2" y1="421.3" x2="418.2" y2="421.3" stroke="#111" stroke-width="1.6"/>
<line x1="400.7" y1="397.3" x2="400.7" y2="408.2" stroke="#222" stroke-width="1"/>
<line x1="400.7" y1="433.2" x2="400.7" y2="444" stroke="#222" stroke-width="1"/>
<line x1="383.2" y1="397.3" x2="418.2" y2="397.3" stroke="#222" stroke-width="1.1"/>
<line x1="383.2" y1="444" x2="418.2" y2="444" stroke="#222" stroke-width="1.1"/>
<circle cx="401" cy="352.8" r="0.95" fill="#111"/>
<g transform="translate(306.5,0) scale(0.98,1)"><text font-size="8.6" font-family="'Liberation Sans', sans-serif"><tspan x="0" y="486.00">Peripheral</tspan><tspan x="0" y="496.25">blood</tspan><tspan x="0" y="506.50">mononuclear</tspan><tspan x="0" y="516.75">cells</tspan><tspan x="0" y="527.00">(n=74)</tspan></text></g>
<g transform="translate(381.7,0) scale(0.98,1)"><text font-size="8.6" font-family="'Liberation Sans', sans-serif"><tspan x="0" y="486.00">AML</tspan><tspan x="0" y="496.25">cells</tspan><tspan x="0" y="506.50">(n=542)</tspan></text></g>
<rect x="0" y="0" width="1.5" height="537" fill="#262626"/>
<rect x="0" y="0" width="520" height="1.7" fill="#222"/>
<rect x="518.3" y="0" width="1.7" height="537" fill="#383838"/>
<rect x="0" y="535.6" width="520" height="1.4" fill="#111"/>
</svg>
</body></html>
